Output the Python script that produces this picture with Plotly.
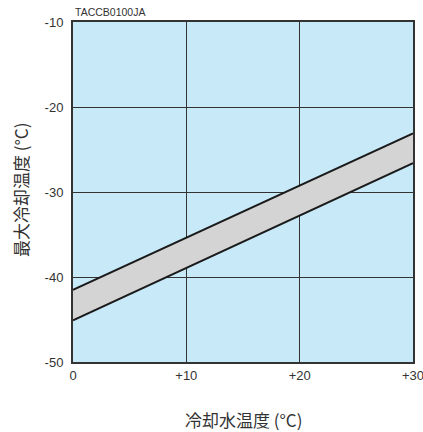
import plotly.graph_objects as go

water_temp = [0, 30]
upper_limit = [-41.5, -23.1]
lower_limit = [-45.1, -26.6]
x_ticks = [0, 10, 20, 30]
x_tick_labels = ["0", "+10", "+20", "+30"]
y_ticks = [-10, -20, -30, -40, -50]
y_tick_labels = ["-10", "-20", "-30", "-40", "-50"]

num_font = "Liberation Sans, Arial, sans-serif"
jp_font = "Noto Sans CJK JP, sans-serif"

fig = go.Figure()
fig.add_trace(go.Scatter(x=water_temp, y=lower_limit, mode="lines",
                         line=dict(color="#1a1a1a", width=2), showlegend=False))
fig.add_trace(go.Scatter(x=water_temp, y=upper_limit, mode="lines",
                         line=dict(color="#1a1a1a", width=2), fill="tonexty",
                         fillcolor="#d4d4d4", showlegend=False))

fig.update_layout(
    width=423, height=432,
    margin=dict(l=73, r=10, t=22, b=70, autoexpand=False),
    paper_bgcolor="white",
    plot_bgcolor="#c8e9f8",
    font=dict(family=num_font, size=13, color="#333"),
    xaxis=dict(range=[0, 30], tickvals=x_ticks, ticktext=x_tick_labels,
               automargin=False, ticklabeloverflow="allow",
               showgrid=True, gridcolor="#333", gridwidth=1,
               showline=True, linecolor="#333", linewidth=2, mirror=True,
               ticks="", zeroline=False,
               tickfont=dict(family=num_font, size=13, color="#333")),
    yaxis=dict(range=[-50, -10], tickvals=y_ticks, ticktext=y_tick_labels,
               automargin=False, ticklabeloverflow="allow",
               showgrid=True, gridcolor="#333", gridwidth=1,
               showline=True, linecolor="#333", linewidth=2, mirror=True,
               ticks="outside", ticklen=5, tickcolor="rgba(0,0,0,0)",
               zeroline=False, tickfont=dict(family=num_font, size=13, color="#333")),
    annotations=[
        dict(text="TACCB0100JA", xref="paper", yref="paper",
             x=0.0, y=1.0, xanchor="left", yanchor="bottom", yshift=2,
             showarrow=False, font=dict(family=num_font, size=10.5, color="#333")),
        dict(text="冷却水温度 (°C)", xref="paper", yref="paper",
             x=(243-73)/340, y=-(419-362)/340, xanchor="center", yanchor="middle",
             showarrow=False, font=dict(family=jp_font, size=17, color="#333")),
        dict(text="最大冷却温度 (°C)", xref="paper", yref="paper",
             x=(20-73)/340, y=(362-190)/340, xanchor="center", yanchor="middle",
             textangle=-90,
             showarrow=False, font=dict(family=jp_font, size=17, color="#333")),
    ],
)

fig.write_html("out.html", config={"displayModeBar": False},
               post_script="document.body.style.margin='0';document.body.style.overflow='hidden';")
